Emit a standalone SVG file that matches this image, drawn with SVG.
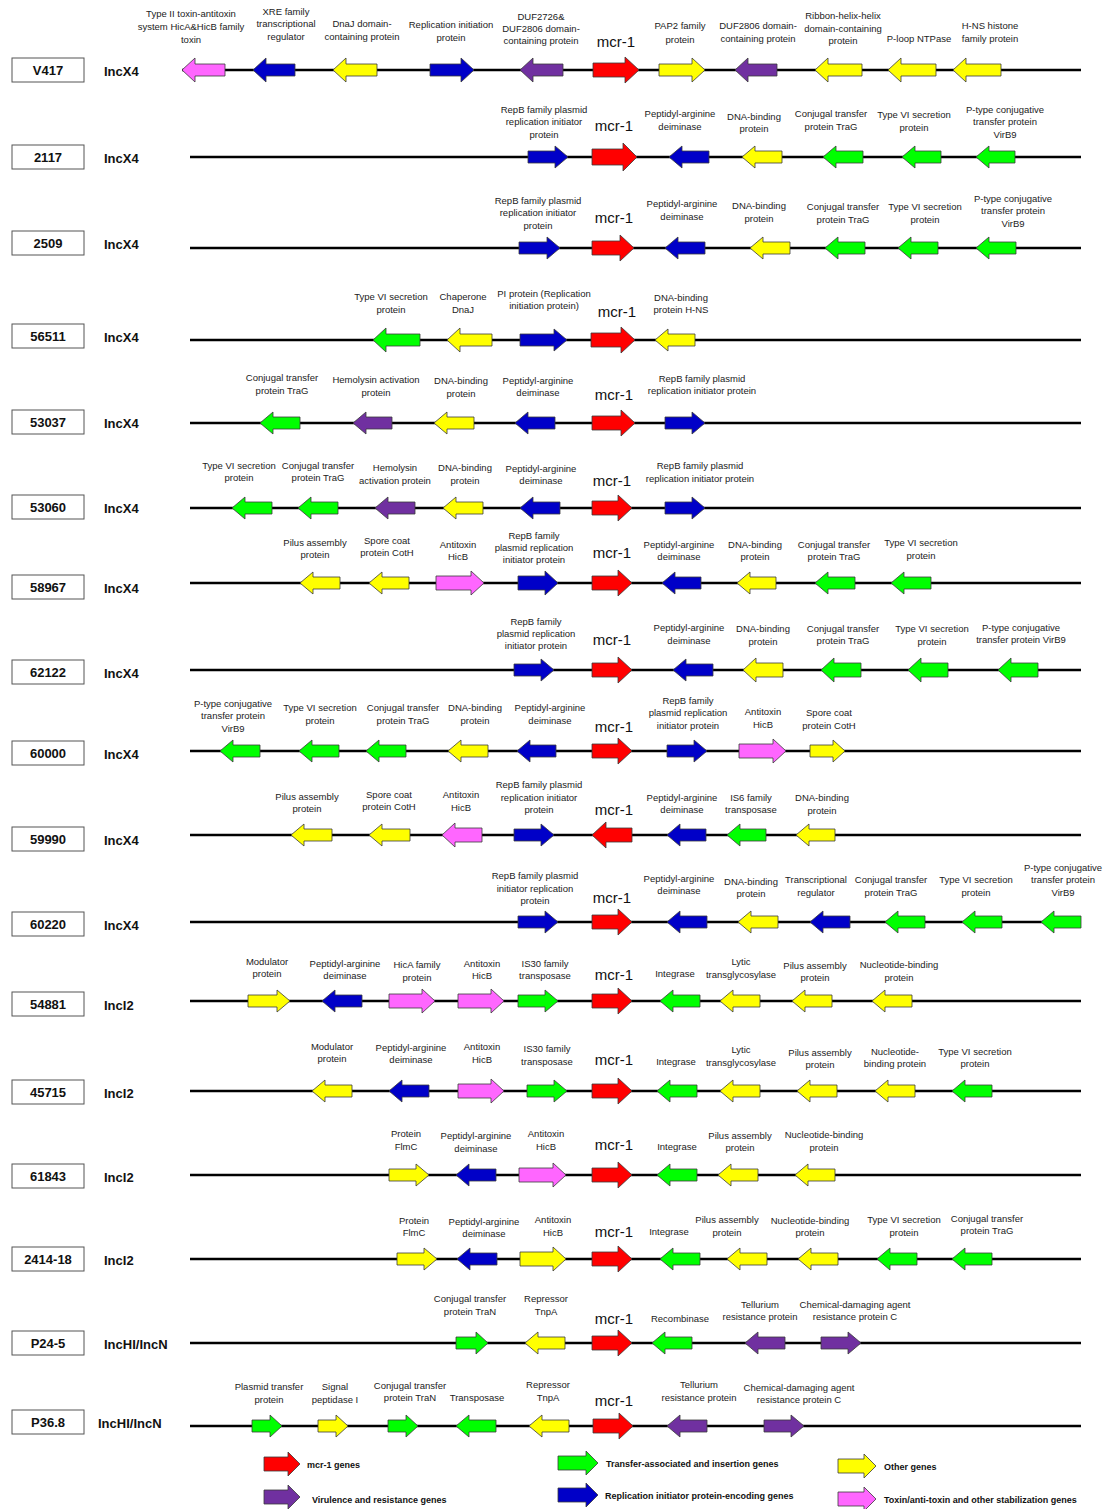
<svg xmlns="http://www.w3.org/2000/svg" width="1115" height="1509" viewBox="0 0 1115 1509">
<style>
.bb{stroke:#000;stroke-width:2.5}
.a{stroke:#3a3a3a;stroke-width:0.8}
.r{fill:#FF0000}.y{fill:#FFFF00}.g{fill:#00FF00}.b{fill:#0000C8}.p{fill:#7030A0}.k{fill:#FF66FF}
text{font-family:"Liberation Sans",Arial,sans-serif;fill:#222}
.t{font-size:9.5px;text-anchor:middle}
.m{font-size:15px;text-anchor:middle;fill:#111}
.box{fill:#fff;stroke:#555;stroke-width:1}
.nm{font-weight:bold;font-size:13px;text-anchor:middle;fill:#111}
.inc{font-weight:bold;font-size:13px;fill:#111}
.lg{font-weight:bold;font-size:9px;fill:#111}
</style>
<rect width="1115" height="1509" fill="#fff"/>
<g id="connectors">
<line class="bb" x1="182" y1="70" x2="1081" y2="70"/>
<line class="bb" x1="190" y1="157" x2="1081" y2="157"/>
<line class="bb" x1="190" y1="248" x2="1081" y2="248"/>
<line class="bb" x1="190" y1="340" x2="1081" y2="340"/>
<line class="bb" x1="190" y1="423" x2="1081" y2="423"/>
<line class="bb" x1="190" y1="508" x2="1081" y2="508"/>
<line class="bb" x1="190" y1="583" x2="1081" y2="583"/>
<line class="bb" x1="190" y1="670" x2="1081" y2="670"/>
<line class="bb" x1="190" y1="751" x2="1081" y2="751"/>
<line class="bb" x1="190" y1="835" x2="1081" y2="835"/>
<line class="bb" x1="190" y1="922" x2="1081" y2="922"/>
<line class="bb" x1="190" y1="1001" x2="1081" y2="1001"/>
<line class="bb" x1="190" y1="1091" x2="1081" y2="1091"/>
<line class="bb" x1="190" y1="1175" x2="1081" y2="1175"/>
<line class="bb" x1="190" y1="1259" x2="1081" y2="1259"/>
<line class="bb" x1="190" y1="1343" x2="1081" y2="1343"/>
<line class="bb" x1="190" y1="1426" x2="1081" y2="1426"/>
</g>

<g id="row-V417">
<rect class="box" x="12" y="58" width="72" height="24"/><text class="nm" x="48" y="75">V417</text><text class="inc" x="104" y="76">IncX4</text>
<path class="a k" transform="translate(182,70)" d="M0,0L13,-12V-6H43V6H13V12Z"/>
<path class="a b" transform="translate(253,70)" d="M0,0L13,-12V-6H42V6H13V12Z"/>
<path class="a y" transform="translate(333,70)" d="M0,0L13,-12V-6H44V6H13V12Z"/>
<path class="a b" transform="translate(474,70)" d="M0,0L-13,-12V-6H-44V6H-13V12Z"/>
<path class="a p" transform="translate(520,70)" d="M0,0L13,-12V-6H43V6H13V12Z"/>
<path class="a r" transform="translate(639,70)" d="M0,0L-14,-13V-7H-46V7H-14V13Z"/>
<path class="a y" transform="translate(705,70)" d="M0,0L-13,-12V-6H-46V6H-13V12Z"/>
<path class="a p" transform="translate(735,70)" d="M0,0L13,-12V-6H42V6H13V12Z"/>
<path class="a y" transform="translate(815,70)" d="M0,0L13,-12V-6H47V6H13V12Z"/>
<path class="a y" transform="translate(888,70)" d="M0,0L13,-12V-6H48V6H13V12Z"/>
<path class="a y" transform="translate(953,70)" d="M0,0L13,-12V-6H48V6H13V12Z"/>
<text class="t"><tspan x="191" y="17">Type II toxin-antitoxin</tspan><tspan x="191" y="30">system HicA&amp;HicB family</tspan><tspan x="191" y="43">toxin</tspan></text>
<text class="t"><tspan x="286" y="15">XRE family</tspan><tspan x="286" y="27">transcriptional</tspan><tspan x="286" y="40">regulator</tspan></text>
<text class="t"><tspan x="362" y="27">DnaJ domain-</tspan><tspan x="362" y="40">containing protein</tspan></text>
<text class="t"><tspan x="451" y="28">Replication initiation</tspan><tspan x="451" y="41">protein</tspan></text>
<text class="t"><tspan x="541" y="20">DUF2726&amp;</tspan><tspan x="541" y="32">DUF2806 domain-</tspan><tspan x="541" y="44">containing protein</tspan></text>
<text class="m" x="616" y="47">mcr-1</text>
<text class="t"><tspan x="680" y="29">PAP2 family</tspan><tspan x="680" y="43">protein</tspan></text>
<text class="t"><tspan x="758" y="29">DUF2806 domain-</tspan><tspan x="758" y="42">containing protein</tspan></text>
<text class="t"><tspan x="843" y="19">Ribbon-helix-helix</tspan><tspan x="843" y="32">domain-containing</tspan><tspan x="843" y="44">protein</tspan></text>
<text class="t" x="919" y="42">P-loop NTPase</text>
<text class="t"><tspan x="990" y="29">H-NS histone</tspan><tspan x="990" y="42">family protein</tspan></text>
</g>

<g id="row-2117">
<rect class="box" x="12" y="145" width="72" height="24"/><text class="nm" x="48" y="162">2117</text><text class="inc" x="104" y="163">IncX4</text>
<path class="a b" transform="translate(568,157)" d="M0,0L-13,-11V-6H-40V6H-13V11Z"/>
<path class="a r" transform="translate(637,157)" d="M0,0L-14,-14V-8H-45V8H-14V14Z"/>
<path class="a b" transform="translate(669,157)" d="M0,0L13,-11V-6H40V6H13V11Z"/>
<path class="a y" transform="translate(742,157)" d="M0,0L13,-11V-6H40V6H13V11Z"/>
<path class="a g" transform="translate(823,157)" d="M0,0L13,-11V-6H40V6H13V11Z"/>
<path class="a g" transform="translate(902,157)" d="M0,0L13,-11V-6H39V6H13V11Z"/>
<path class="a g" transform="translate(976,157)" d="M0,0L13,-11V-6H39V6H13V11Z"/>
<text class="t"><tspan x="544" y="113">RepB family plasmid</tspan><tspan x="544" y="125">replication initiator</tspan><tspan x="544" y="138">protein</tspan></text>
<text class="m" x="614" y="131">mcr-1</text>
<text class="t"><tspan x="680" y="117">Peptidyl-arginine</tspan><tspan x="680" y="130">deiminase</tspan></text>
<text class="t"><tspan x="754" y="120">DNA-binding</tspan><tspan x="754" y="132">protein</tspan></text>
<text class="t"><tspan x="831" y="117">Conjugal transfer</tspan><tspan x="831" y="130">protein TraG</tspan></text>
<text class="t"><tspan x="914" y="118">Type VI secretion</tspan><tspan x="914" y="131">protein</tspan></text>
<text class="t"><tspan x="1005" y="113">P-type conjugative</tspan><tspan x="1005" y="125">transfer protein</tspan><tspan x="1005" y="138">VirB9</tspan></text>
</g>

<g id="row-2509">
<rect class="box" x="12" y="231" width="72" height="24"/><text class="nm" x="48" y="248">2509</text><text class="inc" x="104" y="249">IncX4</text>
<path class="a b" transform="translate(560,248)" d="M0,0L-13,-11V-6H-41V6H-13V11Z"/>
<path class="a r" transform="translate(634,248)" d="M0,0L-14,-13V-7H-42V7H-14V13Z"/>
<path class="a b" transform="translate(665,248)" d="M0,0L13,-11V-6H40V6H13V11Z"/>
<path class="a y" transform="translate(750,248)" d="M0,0L13,-11V-6H40V6H13V11Z"/>
<path class="a g" transform="translate(825,248)" d="M0,0L13,-11V-6H40V6H13V11Z"/>
<path class="a g" transform="translate(898,248)" d="M0,0L13,-11V-6H40V6H13V11Z"/>
<path class="a g" transform="translate(976,248)" d="M0,0L13,-11V-6H40V6H13V11Z"/>
<text class="t"><tspan x="538" y="204">RepB family plasmid</tspan><tspan x="538" y="216">replication initiator</tspan><tspan x="538" y="229">protein</tspan></text>
<text class="m" x="614" y="223">mcr-1</text>
<text class="t"><tspan x="682" y="207">Peptidyl-arginine</tspan><tspan x="682" y="220">deiminase</tspan></text>
<text class="t"><tspan x="759" y="209">DNA-binding</tspan><tspan x="759" y="222">protein</tspan></text>
<text class="t"><tspan x="843" y="210">Conjugal transfer</tspan><tspan x="843" y="223">protein TraG</tspan></text>
<text class="t"><tspan x="925" y="210">Type VI secretion</tspan><tspan x="925" y="223">protein</tspan></text>
<text class="t"><tspan x="1013" y="202">P-type conjugative</tspan><tspan x="1013" y="214">transfer protein</tspan><tspan x="1013" y="227">VirB9</tspan></text>
</g>

<g id="row-56511">
<rect class="box" x="12" y="324" width="72" height="24"/><text class="nm" x="48" y="341">56511</text><text class="inc" x="104" y="342">IncX4</text>
<path class="a g" transform="translate(373,340)" d="M0,0L13,-12V-6H47V6H13V12Z"/>
<path class="a y" transform="translate(447,340)" d="M0,0L13,-12V-6H45V6H13V12Z"/>
<path class="a b" transform="translate(567,340)" d="M0,0L-13,-11V-6H-47V6H-13V11Z"/>
<path class="a r" transform="translate(635,340)" d="M0,0L-14,-13V-7H-44V7H-14V13Z"/>
<path class="a y" transform="translate(655,340)" d="M0,0L13,-11V-6H40V6H13V11Z"/>
<text class="t"><tspan x="391" y="300">Type VI secretion</tspan><tspan x="391" y="313">protein</tspan></text>
<text class="t"><tspan x="463" y="300">Chaperone</tspan><tspan x="463" y="313">DnaJ</tspan></text>
<text class="t"><tspan x="544" y="297">PI protein (Replication</tspan><tspan x="544" y="309">initiation protein)</tspan></text>
<text class="m" x="617" y="317">mcr-1</text>
<text class="t"><tspan x="681" y="301">DNA-binding</tspan><tspan x="681" y="313">protein H-NS</tspan></text>
</g>

<g id="row-53037">
<rect class="box" x="12" y="410" width="72" height="24"/><text class="nm" x="48" y="427">53037</text><text class="inc" x="104" y="428">IncX4</text>
<path class="a g" transform="translate(260,423)" d="M0,0L13,-11V-6H40V6H13V11Z"/>
<path class="a p" transform="translate(353,423)" d="M0,0L13,-11V-6H39V6H13V11Z"/>
<path class="a y" transform="translate(434,423)" d="M0,0L13,-11V-6H40V6H13V11Z"/>
<path class="a b" transform="translate(515,423)" d="M0,0L13,-11V-6H40V6H13V11Z"/>
<path class="a r" transform="translate(635,423)" d="M0,0L-14,-13V-7H-43V7H-14V13Z"/>
<path class="a b" transform="translate(705,423)" d="M0,0L-13,-11V-6H-40V6H-13V11Z"/>
<text class="t"><tspan x="282" y="381">Conjugal transfer</tspan><tspan x="282" y="394">protein TraG</tspan></text>
<text class="t"><tspan x="376" y="383">Hemolysin activation</tspan><tspan x="376" y="396">protein</tspan></text>
<text class="t"><tspan x="461" y="384">DNA-binding</tspan><tspan x="461" y="397">protein</tspan></text>
<text class="t"><tspan x="538" y="384">Peptidyl-arginine</tspan><tspan x="538" y="396">deiminase</tspan></text>
<text class="m" x="614" y="400">mcr-1</text>
<text class="t"><tspan x="702" y="382">RepB family plasmid</tspan><tspan x="702" y="394">replication initiator protein</tspan></text>
</g>

<g id="row-53060">
<rect class="box" x="12" y="495" width="72" height="24"/><text class="nm" x="48" y="512">53060</text><text class="inc" x="104" y="513">IncX4</text>
<path class="a g" transform="translate(232,508)" d="M0,0L13,-11V-6H40V6H13V11Z"/>
<path class="a g" transform="translate(298,508)" d="M0,0L13,-11V-6H40V6H13V11Z"/>
<path class="a p" transform="translate(375,508)" d="M0,0L13,-11V-6H40V6H13V11Z"/>
<path class="a y" transform="translate(443,508)" d="M0,0L13,-11V-6H40V6H13V11Z"/>
<path class="a b" transform="translate(520,508)" d="M0,0L13,-11V-6H40V6H13V11Z"/>
<path class="a r" transform="translate(632,508)" d="M0,0L-14,-13V-7H-40V7H-14V13Z"/>
<path class="a b" transform="translate(705,508)" d="M0,0L-13,-11V-6H-40V6H-13V11Z"/>
<text class="t"><tspan x="239" y="469">Type VI secretion</tspan><tspan x="239" y="481">protein</tspan></text>
<text class="t"><tspan x="318" y="469">Conjugal transfer</tspan><tspan x="318" y="481">protein TraG</tspan></text>
<text class="t"><tspan x="395" y="471">Hemolysin</tspan><tspan x="395" y="484">activation protein</tspan></text>
<text class="t"><tspan x="465" y="471">DNA-binding</tspan><tspan x="465" y="484">protein</tspan></text>
<text class="t"><tspan x="541" y="472">Peptidyl-arginine</tspan><tspan x="541" y="484">deiminase</tspan></text>
<text class="m" x="612" y="486">mcr-1</text>
<text class="t"><tspan x="700" y="469">RepB family plasmid</tspan><tspan x="700" y="482">replication initiator protein</tspan></text>
</g>

<g id="row-58967">
<rect class="box" x="12" y="575" width="72" height="24"/><text class="nm" x="48" y="592">58967</text><text class="inc" x="104" y="593">IncX4</text>
<path class="a y" transform="translate(300,583)" d="M0,0L13,-11V-6H40V6H13V11Z"/>
<path class="a y" transform="translate(369,583)" d="M0,0L13,-11V-6H40V6H13V11Z"/>
<path class="a k" transform="translate(484,583)" d="M0,0L-13,-12V-7H-48V7H-13V12Z"/>
<path class="a b" transform="translate(558,583)" d="M0,0L-13,-12V-7H-40V7H-13V12Z"/>
<path class="a r" transform="translate(632,583)" d="M0,0L-14,-13V-7H-40V7H-14V13Z"/>
<path class="a b" transform="translate(662,583)" d="M0,0L13,-11V-6H39V6H13V11Z"/>
<path class="a y" transform="translate(737,583)" d="M0,0L13,-11V-6H39V6H13V11Z"/>
<path class="a g" transform="translate(815,583)" d="M0,0L13,-11V-6H40V6H13V11Z"/>
<path class="a g" transform="translate(891,583)" d="M0,0L13,-11V-6H40V6H13V11Z"/>
<text class="t"><tspan x="315" y="546">Pilus assembly</tspan><tspan x="315" y="558">protein</tspan></text>
<text class="t"><tspan x="387" y="544">Spore coat</tspan><tspan x="387" y="556">protein CotH</tspan></text>
<text class="t"><tspan x="458" y="548">Antitoxin</tspan><tspan x="458" y="560">HicB</tspan></text>
<text class="t"><tspan x="534" y="539">RepB family</tspan><tspan x="534" y="551">plasmid replication</tspan><tspan x="534" y="563">initiator protein</tspan></text>
<text class="m" x="612" y="558">mcr-1</text>
<text class="t"><tspan x="679" y="548">Peptidyl-arginine</tspan><tspan x="679" y="560">deiminase</tspan></text>
<text class="t"><tspan x="755" y="548">DNA-binding</tspan><tspan x="755" y="560">protein</tspan></text>
<text class="t"><tspan x="834" y="548">Conjugal transfer</tspan><tspan x="834" y="560">protein TraG</tspan></text>
<text class="t"><tspan x="921" y="546">Type VI secretion</tspan><tspan x="921" y="559">protein</tspan></text>
</g>

<g id="row-62122">
<rect class="box" x="12" y="660" width="72" height="24"/><text class="nm" x="48" y="677">62122</text><text class="inc" x="104" y="678">IncX4</text>
<path class="a b" transform="translate(554,670)" d="M0,0L-13,-11V-6H-40V6H-13V11Z"/>
<path class="a r" transform="translate(632,670)" d="M0,0L-14,-13V-7H-40V7H-14V13Z"/>
<path class="a b" transform="translate(673,670)" d="M0,0L13,-11V-6H40V6H13V11Z"/>
<path class="a y" transform="translate(743,670)" d="M0,0L13,-12V-7H40V7H13V12Z"/>
<path class="a g" transform="translate(821,670)" d="M0,0L13,-12V-7H40V7H13V12Z"/>
<path class="a g" transform="translate(908,670)" d="M0,0L13,-12V-7H40V7H13V12Z"/>
<path class="a g" transform="translate(998,670)" d="M0,0L13,-12V-7H40V7H13V12Z"/>
<text class="t"><tspan x="536" y="625">RepB family</tspan><tspan x="536" y="637">plasmid replication</tspan><tspan x="536" y="649">initiator protein</tspan></text>
<text class="m" x="612" y="645">mcr-1</text>
<text class="t"><tspan x="689" y="631">Peptidyl-arginine</tspan><tspan x="689" y="644">deiminase</tspan></text>
<text class="t"><tspan x="763" y="632">DNA-binding</tspan><tspan x="763" y="645">protein</tspan></text>
<text class="t"><tspan x="843" y="632">Conjugal transfer</tspan><tspan x="843" y="644">protein TraG</tspan></text>
<text class="t"><tspan x="932" y="632">Type VI secretion</tspan><tspan x="932" y="645">protein</tspan></text>
<text class="t"><tspan x="1021" y="631">P-type conjugative</tspan><tspan x="1021" y="643">transfer protein VirB9</tspan></text>
</g>

<g id="row-60000">
<rect class="box" x="12" y="741" width="72" height="24"/><text class="nm" x="48" y="758">60000</text><text class="inc" x="104" y="759">IncX4</text>
<path class="a g" transform="translate(220,751)" d="M0,0L13,-11V-6H40V6H13V11Z"/>
<path class="a g" transform="translate(299,751)" d="M0,0L13,-11V-6H40V6H13V11Z"/>
<path class="a g" transform="translate(366,751)" d="M0,0L13,-11V-6H40V6H13V11Z"/>
<path class="a y" transform="translate(448,751)" d="M0,0L13,-11V-6H40V6H13V11Z"/>
<path class="a b" transform="translate(517,751)" d="M0,0L13,-11V-6H39V6H13V11Z"/>
<path class="a r" transform="translate(632,751)" d="M0,0L-14,-13V-7H-40V7H-14V13Z"/>
<path class="a b" transform="translate(707,751)" d="M0,0L-13,-11V-6H-40V6H-13V11Z"/>
<path class="a k" transform="translate(786,751)" d="M0,0L-13,-12V-7H-47V7H-13V12Z"/>
<path class="a y" transform="translate(845,751)" d="M0,0L-12,-11V-6H-35V6H-12V11Z"/>
<text class="t"><tspan x="233" y="707">P-type conjugative</tspan><tspan x="233" y="719">transfer protein</tspan><tspan x="233" y="732">VirB9</tspan></text>
<text class="t"><tspan x="320" y="711">Type VI secretion</tspan><tspan x="320" y="724">protein</tspan></text>
<text class="t"><tspan x="403" y="711">Conjugal transfer</tspan><tspan x="403" y="724">protein TraG</tspan></text>
<text class="t"><tspan x="475" y="711">DNA-binding</tspan><tspan x="475" y="724">protein</tspan></text>
<text class="t"><tspan x="550" y="711">Peptidyl-arginine</tspan><tspan x="550" y="724">deiminase</tspan></text>
<text class="m" x="614" y="732">mcr-1</text>
<text class="t"><tspan x="688" y="704">RepB family</tspan><tspan x="688" y="716">plasmid replication</tspan><tspan x="688" y="729">initiator protein</tspan></text>
<text class="t"><tspan x="763" y="715">Antitoxin</tspan><tspan x="763" y="728">HicB</tspan></text>
<text class="t"><tspan x="829" y="716">Spore coat</tspan><tspan x="829" y="729">protein CotH</tspan></text>
</g>

<g id="row-59990">
<rect class="box" x="12" y="827" width="72" height="24"/><text class="nm" x="48" y="844">59990</text><text class="inc" x="104" y="845">IncX4</text>
<path class="a y" transform="translate(291,835)" d="M0,0L13,-11V-6H41V6H13V11Z"/>
<path class="a y" transform="translate(369,835)" d="M0,0L13,-11V-6H41V6H13V11Z"/>
<path class="a k" transform="translate(442,835)" d="M0,0L13,-12V-7H40V7H13V12Z"/>
<path class="a b" transform="translate(554,835)" d="M0,0L-13,-11V-6H-40V6H-13V11Z"/>
<path class="a r" transform="translate(592,835)" d="M0,0L14,-13V-7H40V7H14V13Z"/>
<path class="a b" transform="translate(667,835)" d="M0,0L13,-11V-6H39V6H13V11Z"/>
<path class="a g" transform="translate(727,835)" d="M0,0L13,-11V-6H39V6H13V11Z"/>
<path class="a y" transform="translate(796,835)" d="M0,0L13,-11V-6H39V6H13V11Z"/>
<text class="t"><tspan x="307" y="800">Pilus assembly</tspan><tspan x="307" y="812">protein</tspan></text>
<text class="t"><tspan x="389" y="798">Spore coat</tspan><tspan x="389" y="810">protein CotH</tspan></text>
<text class="t"><tspan x="461" y="798">Antitoxin</tspan><tspan x="461" y="811">HicB</tspan></text>
<text class="t"><tspan x="539" y="788">RepB family plasmid</tspan><tspan x="539" y="801">replication initiator</tspan><tspan x="539" y="813">protein</tspan></text>
<text class="m" x="614" y="815">mcr-1</text>
<text class="t"><tspan x="682" y="801">Peptidyl-arginine</tspan><tspan x="682" y="813">deiminase</tspan></text>
<text class="t"><tspan x="751" y="801">IS6 family</tspan><tspan x="751" y="813">transposase</tspan></text>
<text class="t"><tspan x="822" y="801">DNA-binding</tspan><tspan x="822" y="814">protein</tspan></text>
</g>

<g id="row-60220">
<rect class="box" x="12" y="912" width="72" height="24"/><text class="nm" x="48" y="929">60220</text><text class="inc" x="104" y="930">IncX4</text>
<path class="a b" transform="translate(558,922)" d="M0,0L-13,-11V-6H-40V6H-13V11Z"/>
<path class="a r" transform="translate(632,922)" d="M0,0L-14,-13V-7H-40V7H-14V13Z"/>
<path class="a b" transform="translate(667,922)" d="M0,0L13,-11V-6H40V6H13V11Z"/>
<path class="a y" transform="translate(738,922)" d="M0,0L13,-11V-6H40V6H13V11Z"/>
<path class="a b" transform="translate(810,922)" d="M0,0L13,-11V-6H40V6H13V11Z"/>
<path class="a g" transform="translate(885,922)" d="M0,0L13,-11V-6H40V6H13V11Z"/>
<path class="a g" transform="translate(962,922)" d="M0,0L13,-11V-6H40V6H13V11Z"/>
<path class="a g" transform="translate(1041,922)" d="M0,0L13,-11V-6H40V6H13V11Z"/>
<text class="t"><tspan x="535" y="879">RepB family plasmid</tspan><tspan x="535" y="892">initiator replication</tspan><tspan x="535" y="904">protein</tspan></text>
<text class="m" x="612" y="903">mcr-1</text>
<text class="t"><tspan x="679" y="882">Peptidyl-arginine</tspan><tspan x="679" y="894">deiminase</tspan></text>
<text class="t"><tspan x="751" y="885">DNA-binding</tspan><tspan x="751" y="897">protein</tspan></text>
<text class="t"><tspan x="816" y="883">Transcriptional</tspan><tspan x="816" y="896">regulator</tspan></text>
<text class="t"><tspan x="891" y="883">Conjugal transfer</tspan><tspan x="891" y="896">protein TraG</tspan></text>
<text class="t"><tspan x="976" y="883">Type VI secretion</tspan><tspan x="976" y="896">protein</tspan></text>
<text class="t"><tspan x="1063" y="871">P-type conjugative</tspan><tspan x="1063" y="883">transfer protein</tspan><tspan x="1063" y="896">VirB9</tspan></text>
</g>

<g id="row-54881">
<rect class="box" x="12" y="992" width="72" height="24"/><text class="nm" x="48" y="1009">54881</text><text class="inc" x="104" y="1010">IncI2</text>
<path class="a y" transform="translate(290,1001)" d="M0,0L-13,-11V-6H-42V6H-13V11Z"/>
<path class="a b" transform="translate(322,1001)" d="M0,0L13,-11V-6H40V6H13V11Z"/>
<path class="a k" transform="translate(435,1001)" d="M0,0L-13,-12V-7H-46V7H-13V12Z"/>
<path class="a k" transform="translate(504,1001)" d="M0,0L-13,-12V-7H-46V7H-13V12Z"/>
<path class="a g" transform="translate(558,1001)" d="M0,0L-13,-11V-6H-40V6H-13V11Z"/>
<path class="a r" transform="translate(632,1001)" d="M0,0L-14,-13V-7H-40V7H-14V13Z"/>
<path class="a g" transform="translate(660,1001)" d="M0,0L13,-11V-6H40V6H13V11Z"/>
<path class="a y" transform="translate(720,1001)" d="M0,0L13,-11V-6H40V6H13V11Z"/>
<path class="a y" transform="translate(792,1001)" d="M0,0L13,-11V-6H40V6H13V11Z"/>
<path class="a y" transform="translate(872,1001)" d="M0,0L13,-11V-6H40V6H13V11Z"/>
<text class="t"><tspan x="267" y="965">Modulator</tspan><tspan x="267" y="977">protein</tspan></text>
<text class="t"><tspan x="345" y="967">Peptidyl-arginine</tspan><tspan x="345" y="979">deiminase</tspan></text>
<text class="t"><tspan x="417" y="968">HicA family</tspan><tspan x="417" y="981">protein</tspan></text>
<text class="t"><tspan x="482" y="967">Antitoxin</tspan><tspan x="482" y="979">HicB</tspan></text>
<text class="t"><tspan x="545" y="967">IS30 family</tspan><tspan x="545" y="979">transposase</tspan></text>
<text class="m" x="614" y="980">mcr-1</text>
<text class="t" x="675" y="977">Integrase</text>
<text class="t"><tspan x="741" y="965">Lytic</tspan><tspan x="741" y="978">transglycosylase</tspan></text>
<text class="t"><tspan x="815" y="969">Pilus assembly</tspan><tspan x="815" y="981">protein</tspan></text>
<text class="t"><tspan x="899" y="968">Nucleotide-binding</tspan><tspan x="899" y="981">protein</tspan></text>
</g>

<g id="row-45715">
<rect class="box" x="12" y="1080" width="72" height="24"/><text class="nm" x="48" y="1097">45715</text><text class="inc" x="104" y="1098">IncI2</text>
<path class="a y" transform="translate(312,1091)" d="M0,0L13,-11V-6H40V6H13V11Z"/>
<path class="a b" transform="translate(389,1091)" d="M0,0L13,-11V-6H40V6H13V11Z"/>
<path class="a k" transform="translate(504,1091)" d="M0,0L-13,-12V-7H-46V7H-13V12Z"/>
<path class="a g" transform="translate(567,1091)" d="M0,0L-13,-11V-6H-40V6H-13V11Z"/>
<path class="a r" transform="translate(632,1091)" d="M0,0L-14,-13V-7H-40V7H-14V13Z"/>
<path class="a g" transform="translate(657,1091)" d="M0,0L13,-11V-6H40V6H13V11Z"/>
<path class="a y" transform="translate(720,1091)" d="M0,0L13,-11V-6H40V6H13V11Z"/>
<path class="a y" transform="translate(797,1091)" d="M0,0L13,-11V-6H40V6H13V11Z"/>
<path class="a y" transform="translate(875,1091)" d="M0,0L13,-11V-6H40V6H13V11Z"/>
<path class="a g" transform="translate(952,1091)" d="M0,0L13,-11V-6H40V6H13V11Z"/>
<text class="t"><tspan x="332" y="1050">Modulator</tspan><tspan x="332" y="1062">protein</tspan></text>
<text class="t"><tspan x="411" y="1051">Peptidyl-arginine</tspan><tspan x="411" y="1063">deiminase</tspan></text>
<text class="t"><tspan x="482" y="1050">Antitoxin</tspan><tspan x="482" y="1063">HicB</tspan></text>
<text class="t"><tspan x="547" y="1052">IS30 family</tspan><tspan x="547" y="1065">transposase</tspan></text>
<text class="m" x="614" y="1065">mcr-1</text>
<text class="t" x="676" y="1065">Integrase</text>
<text class="t"><tspan x="741" y="1053">Lytic</tspan><tspan x="741" y="1066">transglycosylase</tspan></text>
<text class="t"><tspan x="820" y="1056">Pilus assembly</tspan><tspan x="820" y="1068">protein</tspan></text>
<text class="t"><tspan x="895" y="1055">Nucleotide-</tspan><tspan x="895" y="1067">binding protein</tspan></text>
<text class="t"><tspan x="975" y="1055">Type VI secretion</tspan><tspan x="975" y="1067">protein</tspan></text>
</g>

<g id="row-61843">
<rect class="box" x="12" y="1164" width="72" height="24"/><text class="nm" x="48" y="1181">61843</text><text class="inc" x="104" y="1182">IncI2</text>
<path class="a y" transform="translate(429,1175)" d="M0,0L-13,-11V-6H-40V6H-13V11Z"/>
<path class="a b" transform="translate(456,1175)" d="M0,0L13,-11V-6H40V6H13V11Z"/>
<path class="a k" transform="translate(566,1175)" d="M0,0L-13,-12V-7H-47V7H-13V12Z"/>
<path class="a r" transform="translate(632,1175)" d="M0,0L-14,-13V-7H-40V7H-14V13Z"/>
<path class="a g" transform="translate(657,1175)" d="M0,0L13,-11V-6H40V6H13V11Z"/>
<path class="a y" transform="translate(718,1175)" d="M0,0L13,-11V-6H40V6H13V11Z"/>
<path class="a y" transform="translate(795,1175)" d="M0,0L13,-11V-6H40V6H13V11Z"/>
<text class="t"><tspan x="406" y="1137">Protein</tspan><tspan x="406" y="1150">FlmC</tspan></text>
<text class="t"><tspan x="476" y="1139">Peptidyl-arginine</tspan><tspan x="476" y="1152">deiminase</tspan></text>
<text class="t"><tspan x="546" y="1137">Antitoxin</tspan><tspan x="546" y="1150">HicB</tspan></text>
<text class="m" x="614" y="1150">mcr-1</text>
<text class="t" x="677" y="1150">Integrase</text>
<text class="t"><tspan x="740" y="1139">Pilus assembly</tspan><tspan x="740" y="1151">protein</tspan></text>
<text class="t"><tspan x="824" y="1138">Nucleotide-binding</tspan><tspan x="824" y="1151">protein</tspan></text>
</g>

<g id="row-2414-18">
<rect class="box" x="12" y="1247" width="72" height="24"/><text class="nm" x="48" y="1264">2414-18</text><text class="inc" x="104" y="1265">IncI2</text>
<path class="a y" transform="translate(437,1259)" d="M0,0L-13,-11V-6H-40V6H-13V11Z"/>
<path class="a b" transform="translate(457,1259)" d="M0,0L13,-11V-6H40V6H13V11Z"/>
<path class="a y" transform="translate(566,1259)" d="M0,0L-13,-12V-7H-46V7H-13V12Z"/>
<path class="a r" transform="translate(632,1259)" d="M0,0L-14,-13V-7H-40V7H-14V13Z"/>
<path class="a g" transform="translate(660,1259)" d="M0,0L13,-11V-6H40V6H13V11Z"/>
<path class="a y" transform="translate(727,1259)" d="M0,0L13,-11V-6H40V6H13V11Z"/>
<path class="a y" transform="translate(798,1259)" d="M0,0L13,-11V-6H40V6H13V11Z"/>
<path class="a g" transform="translate(877,1259)" d="M0,0L13,-11V-6H40V6H13V11Z"/>
<path class="a g" transform="translate(952,1259)" d="M0,0L13,-11V-6H40V6H13V11Z"/>
<text class="t"><tspan x="414" y="1224">Protein</tspan><tspan x="414" y="1236">FlmC</tspan></text>
<text class="t"><tspan x="484" y="1225">Peptidyl-arginine</tspan><tspan x="484" y="1237">deiminase</tspan></text>
<text class="t"><tspan x="553" y="1223">Antitoxin</tspan><tspan x="553" y="1236">HicB</tspan></text>
<text class="m" x="614" y="1237">mcr-1</text>
<text class="t" x="669" y="1235">Integrase</text>
<text class="t"><tspan x="727" y="1223">Pilus assembly</tspan><tspan x="727" y="1236">protein</tspan></text>
<text class="t"><tspan x="810" y="1224">Nucleotide-binding</tspan><tspan x="810" y="1236">protein</tspan></text>
<text class="t"><tspan x="904" y="1223">Type VI secretion</tspan><tspan x="904" y="1236">protein</tspan></text>
<text class="t"><tspan x="987" y="1222">Conjugal transfer</tspan><tspan x="987" y="1234">protein TraG</tspan></text>
</g>

<g id="row-P24-5">
<rect class="box" x="12" y="1331" width="72" height="24"/><text class="nm" x="48" y="1348">P24-5</text><text class="inc" x="104" y="1349">IncHI/IncN</text>
<path class="a g" transform="translate(488,1343)" d="M0,0L-12,-11V-6H-32V6H-12V11Z"/>
<path class="a y" transform="translate(525,1343)" d="M0,0L13,-11V-6H40V6H13V11Z"/>
<path class="a r" transform="translate(632,1343)" d="M0,0L-14,-13V-7H-40V7H-14V13Z"/>
<path class="a g" transform="translate(652,1343)" d="M0,0L13,-11V-6H40V6H13V11Z"/>
<path class="a p" transform="translate(745,1343)" d="M0,0L13,-11V-6H40V6H13V11Z"/>
<path class="a p" transform="translate(861,1343)" d="M0,0L-13,-11V-6H-40V6H-13V11Z"/>
<text class="t"><tspan x="470" y="1302">Conjugal transfer</tspan><tspan x="470" y="1315">protein TraN</tspan></text>
<text class="t"><tspan x="546" y="1302">Repressor</tspan><tspan x="546" y="1315">TnpA</tspan></text>
<text class="m" x="614" y="1324">mcr-1</text>
<text class="t" x="680" y="1322">Recombinase</text>
<text class="t"><tspan x="760" y="1308">Tellurium</tspan><tspan x="760" y="1320">resistance protein</tspan></text>
<text class="t"><tspan x="855" y="1308">Chemical-damaging agent</tspan><tspan x="855" y="1320">resistance protein C</tspan></text>
</g>

<g id="row-P36.8">
<rect class="box" x="12" y="1410" width="72" height="24"/><text class="nm" x="48" y="1427">P36.8</text><text class="inc" x="98" y="1428">IncHI/IncN</text>
<path class="a g" transform="translate(282,1426)" d="M0,0L-12,-11V-6H-30V6H-12V11Z"/>
<path class="a y" transform="translate(348,1426)" d="M0,0L-12,-11V-6H-30V6H-12V11Z"/>
<path class="a g" transform="translate(418,1426)" d="M0,0L-12,-11V-6H-30V6H-12V11Z"/>
<path class="a g" transform="translate(456,1426)" d="M0,0L13,-11V-6H40V6H13V11Z"/>
<path class="a y" transform="translate(529,1426)" d="M0,0L13,-11V-6H40V6H13V11Z"/>
<path class="a r" transform="translate(633,1426)" d="M0,0L-14,-13V-7H-40V7H-14V13Z"/>
<path class="a p" transform="translate(667,1426)" d="M0,0L13,-11V-6H40V6H13V11Z"/>
<path class="a p" transform="translate(804,1426)" d="M0,0L-13,-11V-6H-40V6H-13V11Z"/>
<text class="t"><tspan x="269" y="1390">Plasmid transfer</tspan><tspan x="269" y="1403">protein</tspan></text>
<text class="t"><tspan x="335" y="1390">Signal</tspan><tspan x="335" y="1403">peptidase I</tspan></text>
<text class="t"><tspan x="410" y="1389">Conjugal transfer</tspan><tspan x="410" y="1401">protein TraN</tspan></text>
<text class="t" x="477" y="1401">Transposase</text>
<text class="t"><tspan x="548" y="1388">Repressor</tspan><tspan x="548" y="1401">TnpA</tspan></text>
<text class="m" x="614" y="1406">mcr-1</text>
<text class="t"><tspan x="699" y="1388">Tellurium</tspan><tspan x="699" y="1401">resistance protein</tspan></text>
<text class="t"><tspan x="799" y="1391">Chemical-damaging agent</tspan><tspan x="799" y="1403">resistance protein C</tspan></text>
</g>

<g id="legend">
<path class="a r" transform="translate(300,1464)" d="M0,0L-12,-12V-7H-36V7H-12V12Z"/>
<text class="lg" x="307" y="1468">mcr-1 genes</text>
<path class="a g" transform="translate(598,1463)" d="M0,0L-12,-12V-7H-40V7H-12V12Z"/>
<text class="lg" x="606" y="1467">Transfer-associated and insertion genes</text>
<path class="a y" transform="translate(876,1466)" d="M0,0L-12,-12V-7H-38V7H-12V12Z"/>
<text class="lg" x="884" y="1470">Other genes</text>
<path class="a p" transform="translate(300,1497)" d="M0,0L-12,-12V-7H-36V7H-12V12Z"/>
<text class="lg" x="312" y="1503">Virulence and  resistance genes</text>
<path class="a b" transform="translate(598,1495)" d="M0,0L-12,-12V-7H-40V7H-12V12Z"/>
<text class="lg" x="605" y="1499">Replication initiator protein-encoding genes</text>
<path class="a k" transform="translate(876,1499)" d="M0,0L-12,-12V-7H-38V7H-12V12Z"/>
<text class="lg" x="884" y="1503">Toxin/anti-toxin and other stabilization  genes</text>
</g>
</svg>
